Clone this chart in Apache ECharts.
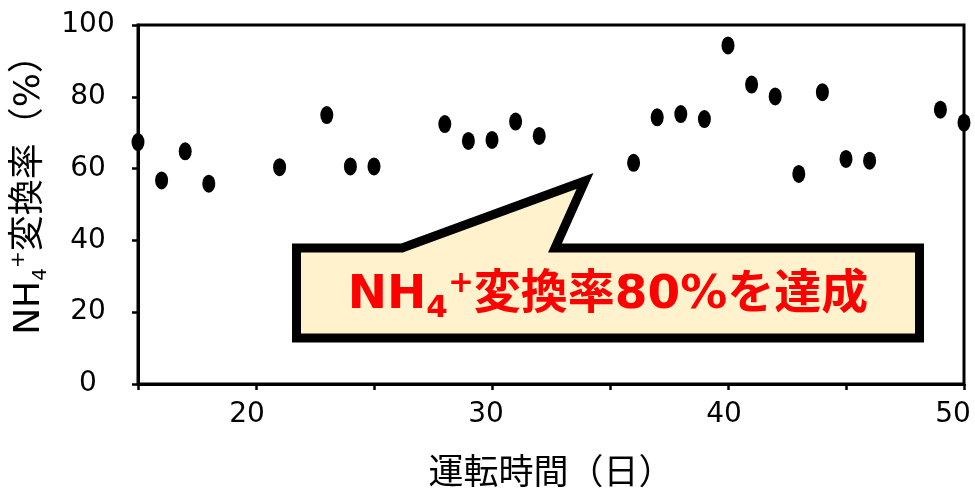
<!DOCTYPE html>
<html>
<head>
<meta charset="utf-8">
<script src="https://cdn.jsdelivr.net/npm/echarts@6/dist/echarts.min.js"></script>
<style>
html,body{margin:0;padding:0;background:#fff;}
#chart{width:975px;height:492px;}
</style>
</head>
<body>
<div id="chart"></div>
<script>
// Operating days and NH4+ conversion rate (%)
const days = [15,16,17,18,21,23,24,25,28,29,30,31,32,36,37,38,39,40,41,42,43,44,45,46,49,50];
const rates = [67.4,56.7,64.8,55.8,60.4,74.9,60.6,60.6,72.4,67.7,68.0,73.1,69.1,61.6,74.3,75.2,73.8,94.3,83.4,80.1,58.5,81.3,62.7,62.2,76.4,72.8];
const xTickLabels = [20,30,40,50];
const yTickLabels = [0,20,40,60,80,100];
const xName = '運転時間（日）';
const yNameParts = ['NH','4','+','変換率（%）'];
const calloutParts = ['NH','4','+','変換率80%を達成'];

const FONT = '"DejaVu Sans", "Noto Sans CJK JP", sans-serif';
const chart = echarts.init(document.getElementById('chart'), null, {renderer:'canvas'});

const xLabelStyle = {fontFamily:FONT,fontSize:28,color:'#000'};
const option = {
  backgroundColor:'#fff',
  animation:false,
  grid:{left:138,right:11,top:25,bottom:108,outerBoundsMode:'none',containLabel:false,
    show:true,borderColor:'#000',borderWidth:3,backgroundColor:'transparent'},
  xAxis:{
    type:'value',min:15,max:50,interval:5,
    name:xName,nameLocation:'middle',nameGap:73,
    nameTextStyle:{fontFamily:FONT,fontSize:35,color:'#000'},
    axisLine:{show:true,lineStyle:{color:'#000',width:3}},
    axisTick:{show:true,inside:false,length:6,lineStyle:{color:'#000',width:2.5}},
    axisLabel:{margin:17,fontFamily:FONT,fontSize:28,color:'#000',
      formatter:v=> xTickLabels.indexOf(v)>=0 ? '{l'+v+'|'+v+'}' : '',
      rich:{
        l20:Object.assign({padding:[0,18,0,0]},xLabelStyle),
        l30:Object.assign({padding:[0,12,0,0]},xLabelStyle),
        l40:Object.assign({padding:[0,8,0,0]},xLabelStyle),
        l50:Object.assign({padding:[0,22,0,0]},xLabelStyle)
      }},
    splitLine:{show:false}
  },
  yAxis:{
    type:'value',min:0,max:100,interval:20,
    name:'{a|'+yNameParts[0]+'}{sub|'+yNameParts[1]+'}{sup|'+yNameParts[2]+'}{a|'+yNameParts[3]+'}',
    nameLocation:'middle',nameGap:77,
    nameTextStyle:{fontFamily:FONT,color:'#000',padding:[0,0,0,37],
      rich:{
        a:{fontFamily:FONT,fontSize:36,lineHeight:42,color:'#000'},
        sub:{fontFamily:FONT,fontSize:20,lineHeight:29,verticalAlign:'bottom',color:'#000'},
        sup:{fontFamily:FONT,fontSize:20,lineHeight:27,verticalAlign:'top',color:'#000'}
      }},
    axisLine:{show:true,lineStyle:{color:'#000',width:3}},
    axisTick:{show:true,inside:false,length:6,lineStyle:{color:'#000',width:2.5}},
    axisLabel:{margin:50,align:'center',fontFamily:FONT,fontSize:28,color:'#000',
      formatter:v=> yTickLabels.indexOf(v)>=0 ? String(v) : ''},
    splitLine:{show:false}
  },
  series:[{
    type:'scatter',
    data:days.map((d,i)=>[d,rates[i]]),
    symbol:'circle',symbolSize:[13,18],
    itemStyle:{color:'#000',opacity:1},
    clip:false,z:5
  }],
  graphic:[
    {type:'polygon',z:10,
      shape:{points:[[296.5,248],[402,248],[585,181],[555,248],[919.5,248],[919.5,338],[296.5,338]]},
      style:{fill:'#FFF2CC',stroke:'#000',lineWidth:9,lineJoin:'miter'}},
    {type:'text',z:11,x:608,y:296,
      style:{
        text:'{a|'+calloutParts[0]+'}{sub|'+calloutParts[1]+'}{sup|'+calloutParts[2]+'}{a|'+calloutParts[3]+'}',
        align:'center',verticalAlign:'middle',
        rich:{
          a:{fontFamily:FONT,fontSize:47,fontWeight:'bold',lineHeight:56,fill:'#FF0000'},
          sub:{fontFamily:FONT,fontSize:31,fontWeight:'bold',lineHeight:29,verticalAlign:'bottom',fill:'#FF0000'},
          sup:{fontFamily:FONT,fontSize:31,fontWeight:'bold',lineHeight:50,verticalAlign:'top',fill:'#FF0000'}
        }
      }}
  ]
};
chart.setOption(option);
</script>
</body>
</html>
